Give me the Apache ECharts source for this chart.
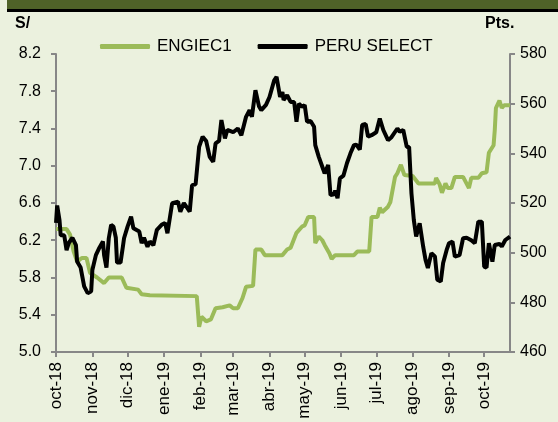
<!DOCTYPE html>
<html>
<head>
<meta charset="utf-8">
<script src="https://cdn.jsdelivr.net/npm/echarts@6/dist/echarts.min.js"></script>
<style>
  html, body { margin: 0; padding: 0; background: #ebf1de; }
  #chart { width: 558px; height: 422px; }
</style>
</head>
<body>
<div id="chart"></div>
<script>
// ENGIEC1 (S/, eje izquierdo)
var engieDates = ['2018-10-01','2018-10-10','2018-10-13','2018-10-16','2018-10-19','2018-10-23','2018-10-27','2018-10-30',
  '2018-11-05','2018-11-11','2018-11-15','2018-11-26','2018-11-30','2018-12-10','2018-12-13','2018-12-20',
  '2019-01-29','2019-01-31','2019-02-02','2019-02-06','2019-02-10','2019-02-14','2019-02-20','2019-02-26',
  '2019-03-01','2019-03-05','2019-03-09','2019-03-12','2019-03-18','2019-03-20','2019-03-25','2019-03-28',
  '2019-04-12','2019-04-16','2019-04-19','2019-04-24','2019-04-29','2019-05-01','2019-05-04','2019-05-09',
  '2019-05-10','2019-05-13','2019-05-16','2019-05-18','2019-05-22','2019-05-24','2019-05-27','2019-06-12',
  '2019-06-15','2019-06-25','2019-06-27','2019-07-02','2019-07-04','2019-07-06','2019-07-11','2019-07-13',
  '2019-07-17','2019-07-19','2019-07-22','2019-07-25','2019-08-01','2019-08-06','2019-08-20','2019-08-21',
  '2019-08-24','2019-08-26','2019-08-29','2019-08-31','2019-09-03','2019-09-06','2019-09-13','2019-09-18',
  '2019-09-20','2019-09-26','2019-09-29','2019-10-03','2019-10-05','2019-10-09','2019-10-10','2019-10-11',
  '2019-10-14','2019-10-16','2019-10-18','2019-10-23'];
var engieValues = [6.32,6.32,6.26,6.08,5.97,6.01,6.01,5.85,
  5.80,5.74,5.80,5.80,5.69,5.67,5.62,5.61,
  5.60,5.27,5.38,5.33,5.35,5.47,5.48,5.50,
  5.47,5.47,5.58,5.70,5.71,6.10,6.10,6.04,
  6.04,6.10,6.12,6.28,6.35,6.36,6.45,6.45,
  6.17,6.24,6.20,6.15,6.06,6.00,6.04,6.04,
  6.08,6.08,6.45,6.45,6.55,6.50,6.56,6.61,
  6.88,6.92,7.01,6.90,6.89,6.81,6.81,6.87,
  6.80,6.71,6.81,6.76,6.76,6.88,6.88,6.76,
  6.87,6.87,6.92,6.93,7.14,7.22,7.38,7.62,
  7.70,7.62,7.65,7.65];

// PERU SELECT (Pts., eje derecho)
var peruDates = ['2018-10-01','2018-10-02','2018-10-03','2018-10-04','2018-10-05','2018-10-08','2018-10-10','2018-10-12',
  '2018-10-15','2018-10-16','2018-10-18','2018-10-19','2018-10-22','2018-10-25','2018-10-28','2018-10-31',
  '2018-11-01','2018-11-04','2018-11-07','2018-11-10','2018-11-11','2018-11-13','2018-11-15','2018-11-17',
  '2018-11-19','2018-11-21','2018-11-22','2018-11-25','2018-11-27','2018-11-28','2018-12-01','2018-12-04',
  '2018-12-06','2018-12-11','2018-12-13','2018-12-15','2018-12-18','2018-12-20','2018-12-23','2018-12-26',
  '2018-12-30','2019-01-02','2019-01-04','2019-01-08','2019-01-13','2019-01-15','2019-01-18','2019-01-23',
  '2019-01-25','2019-01-28','2019-01-31','2019-02-03','2019-02-06','2019-02-09','2019-02-12','2019-02-14',
  '2019-02-17','2019-02-19','2019-02-22','2019-02-24','2019-03-01','2019-03-05','2019-03-08','2019-03-12',
  '2019-03-15','2019-03-17','2019-03-20','2019-03-23','2019-03-25','2019-03-29','2019-04-01','2019-04-05',
  '2019-04-07','2019-04-10','2019-04-12','2019-04-13','2019-04-16','2019-04-19','2019-04-22','2019-04-24',
  '2019-04-26','2019-04-29','2019-05-01','2019-05-03','2019-05-06','2019-05-09','2019-05-10','2019-05-13',
  '2019-05-16','2019-05-18','2019-05-21','2019-05-23','2019-05-26','2019-05-27','2019-05-29','2019-05-31',
  '2019-06-03','2019-06-06','2019-06-09','2019-06-12','2019-06-14','2019-06-17','2019-06-19','2019-06-22',
  '2019-06-24','2019-06-27','2019-07-01','2019-07-04','2019-07-07','2019-07-11','2019-07-14','2019-07-19',
  '2019-07-21','2019-07-24','2019-07-27','2019-07-29','2019-07-31','2019-08-02','2019-08-04','2019-08-07',
  '2019-08-10','2019-08-12','2019-08-14','2019-08-17','2019-08-20','2019-08-22','2019-08-25','2019-08-27',
  '2019-08-30','2019-09-01','2019-09-04','2019-09-06','2019-09-10','2019-09-13','2019-09-16','2019-09-20',
  '2019-09-23','2019-09-26','2019-09-29','2019-10-01','2019-10-03','2019-10-05','2019-10-08','2019-10-10',
  '2019-10-14','2019-10-16','2019-10-19','2019-10-23'];
var peruValues = [512,519,518.5,513,507,507,501,504,
  506,506.5,503,496.4,494,486.4,483.7,484.5,
  493,499,502,504.5,499,494,505.8,511.2,
  510.5,506,496,496,502.4,505.8,510.5,514.5,
  509.8,508.5,503.8,506,502.4,504.5,503,509.2,
  511.2,512,507.8,519.9,520.5,516.5,520,516.5,
  527.2,527.5,542.6,546.7,545,538.6,536.6,544,
  545,553.4,546,549.4,548.5,550,547.3,554.7,
  557.4,554.7,565.4,559,557.4,559.5,562.7,569.4,
  570.8,562.7,564.7,561.5,563.4,560.7,560.7,552.7,
  560,558.7,559.5,552.7,553,550.7,543.3,538.6,
  534.6,531.9,535.3,523.2,523.5,525,521.9,529.9,
  531,536,540,543.3,543.5,541.5,551.4,551.8,
  546.7,547.3,548.5,554,549.4,545.3,546.5,550,
  548.7,549.4,542.6,542.6,523.9,513.2,506.5,511.8,
  502.4,497.1,493.8,499.8,498.5,489.1,488.4,495.8,
  501.1,503.8,504.5,498.4,499,505.8,506,505,
  503.8,512.5,512.5,494.4,494,503.8,496.4,503.1,
  503.5,502.5,505.1,506.5];

var monthNames = ['ene','feb','mar','abr','may','jun','jul','ago','sep','oct','nov','dic'];
var startDate = '2018-10-01', endDate = '2019-10-23';

// one category per calendar day
var days = [];
var d = new Date(startDate + 'T00:00:00Z');
var end = new Date(endDate + 'T00:00:00Z');
while (d <= end) {
  days.push(d.toISOString().slice(0, 10));
  d.setUTCDate(d.getUTCDate() + 1);
}

function pairs(dates, vals) {
  return dates.map(function (dt, i) { return [dt, vals[i]]; });
}
function isMonthStart(idx, val) { return val.slice(8) === '01'; }

var axisColor = '#878787';
var font = 'Liberation Sans, Arial, sans-serif';

var myChart = echarts.init(document.getElementById('chart'));
var option = {
  backgroundColor: '#ebf1de',
  animation: false,
  textStyle: { fontFamily: font },
  graphic: [
    { type: 'rect', shape: { x: 7, y: 0, width: 551, height: 10 }, style: { fill: '#4f6228' } },
    { type: 'rect', shape: { x: 7, y: 9, width: 551, height: 3 }, style: { fill: '#000' } },
    { type: 'text', left: 15, top: 16, style: { text: 'S/', font: 'bold 16px ' + font, fill: '#000' } },
    { type: 'text', left: 485, top: 16, style: { text: 'Pts.', font: 'bold 16px ' + font, fill: '#000' } }
  ],
  legend: {
    left: 95,
    top: 33,
    itemWidth: 50,
    itemHeight: 5,
    itemGap: 26,
    icon: 'roundRect',
    textStyle: { fontSize: 17, color: '#000', fontFamily: font, padding: [0, 0, 0, 2] },
    data: ['ENGIEC1', 'PERU SELECT']
  },
  grid: { left: 56, right: 48, top: 54, bottom: 70 },
  xAxis: {
    type: 'category',
    data: days,
    boundaryGap: false,
    axisLine: { lineStyle: { color: axisColor, width: 2 } },
    axisTick: { interval: isMonthStart, length: 5, lineStyle: { color: axisColor, width: 2 } },
    axisLabel: {
      interval: isMonthStart,
      rotate: 90,
      fontSize: 17,
      color: '#000',
      margin: 10,
      formatter: function (val) {
        return monthNames[parseInt(val.slice(5, 7), 10) - 1] + '-' + val.slice(2, 4);
      }
    },
    splitLine: { show: false }
  },
  yAxis: [
    {
      type: 'value',
      min: 5.0,
      max: 8.2,
      interval: 0.4,
      axisLine: { show: true, lineStyle: { color: axisColor, width: 2 } },
      axisTick: { show: true, length: 5, lineStyle: { color: axisColor, width: 2 } },
      axisLabel: { fontSize: 16, color: '#000', margin: 15, formatter: function (v) { return v.toFixed(1); } },
      splitLine: { show: false }
    },
    {
      type: 'value',
      min: 460,
      max: 580,
      interval: 20,
      axisLine: { show: true, lineStyle: { color: axisColor, width: 2 } },
      axisTick: { show: true, length: 5, lineStyle: { color: axisColor, width: 2 } },
      axisLabel: { fontSize: 16, color: '#000', margin: 10 },
      splitLine: { show: false }
    }
  ],
  series: [
    {
      name: 'ENGIEC1',
      type: 'line',
      yAxisIndex: 0,
      symbol: 'none',
      itemStyle: { color: '#9bbb59' },
      lineStyle: { color: '#9bbb59', width: 4 },
      data: pairs(engieDates, engieValues)
    },
    {
      name: 'PERU SELECT',
      type: 'line',
      yAxisIndex: 1,
      symbol: 'none',
      itemStyle: { color: '#000' },
      lineStyle: { color: '#000', width: 4 },
      data: pairs(peruDates, peruValues)
    }
  ]
};
myChart.setOption(option);
</script>
</body>
</html>
